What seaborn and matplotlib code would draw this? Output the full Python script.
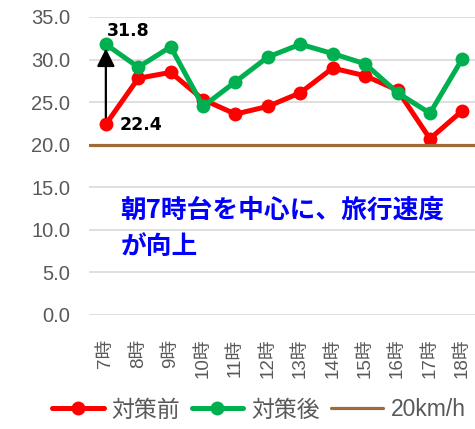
import matplotlib
matplotlib.use("Agg")
import matplotlib.pyplot as plt
from matplotlib.lines import Line2D
import seaborn as sns
import numpy as np
import pandas as pd

hours = ["7時", "8時", "9時", "10時", "11時", "12時", "13時", "14時", "15時", "16時", "17時", "18時"]
before = [22.4, 27.8, 28.5, 25.3, 23.6, 24.5, 26.1, 29.0, 28.1, 26.4, 20.7, 24.0]
after = [31.8, 29.1, 31.5, 24.5, 27.4, 30.3, 31.8, 30.7, 29.5, 26.1, 23.7, 30.1]
threshold = 20.0
yticks = [0, 5, 10, 15, 20, 25, 30, 35]
series_names = ["対策前", "対策後", "20km/h"]

sns.set_theme(style="white")
plt.rcParams['font.family'] = ['Liberation Sans', 'Noto Sans CJK JP', 'DejaVu Sans']

W, H = 475, 429
fig = plt.figure(figsize=(W / 100, H / 100), dpi=100)
ax = fig.add_axes([89 / W, 1 - 315 / H, 1 - 89 / W, (315 - 17) / H])

idx = np.arange(len(hours))
df = pd.DataFrame({"x": np.concatenate([idx, idx]),
                   "y": before + after,
                   "series": [series_names[0]] * len(hours) + [series_names[1]] * len(hours)})

red = "#FF0000"
green = "#00B050"
brown = "#9E6A38"
gray = "#595959"

sns.lineplot(data=df[df.series == series_names[0]], x="x", y="y", ax=ax, color=red,
             marker="o", markersize=10, markeredgewidth=0, linewidth=3.6,
             legend=False, zorder=3)
sns.lineplot(data=df[df.series == series_names[1]], x="x", y="y", ax=ax, color=green,
             marker="o", markersize=10, markeredgewidth=0, linewidth=3.6,
             legend=False, zorder=4)
ax.axhline(threshold, color=brown, linewidth=2.3, zorder=5)

ax.set_xlim(-0.52, 11.39)
ax.set_ylim(0, 35)
ax.set_yticks(yticks)
ax.set_yticklabels([f"{v:.1f}" for v in yticks], color=gray, fontsize=14.5)
ax.set_xticks(idx)
ax.set_xticklabels(hours, rotation=90, color=gray, fontsize=13.5)
ax.tick_params(axis='x', length=0, pad=17)
ax.tick_params(axis='y', length=0, pad=13.5)
ax.set_xlabel("")
ax.set_ylabel("")
for s in ax.spines.values():
    s.set_visible(False)
ax.grid(axis='y', color="#D9D9D9", linewidth=1.2, zorder=0)
ax.set_axisbelow(True)

# annotations
ax.annotate("", xy=(0, 31.3), xytext=(0, 23.2),
            arrowprops=dict(arrowstyle="-|>,head_length=0.9,head_width=0.45",
                            color="black", lw=1.6, shrinkA=0, shrinkB=0), zorder=6)
ax.text(0.03, 33.4, f"{after[0]:.1f}", fontsize=12.5, fontweight="bold",
        family="DejaVu Sans", color="black", va="center", ha="left", zorder=7)
ax.text(0.43, 22.3, f"{before[0]:.1f}", fontsize=12.5, fontweight="bold",
        family="DejaVu Sans", color="black", va="center", ha="left", zorder=7)

ax.text(0.45, 12.3, "朝7時台を中心に、旅行速度", fontsize=18.5, fontweight="bold",
        color="#0000FF", va="center", ha="left",
        family=['Noto Sans CJK JP', 'DejaVu Sans'], zorder=7)
ax.text(0.45, 8.1, "が向上", fontsize=18.5, fontweight="bold",
        color="#0000FF", va="center", ha="left",
        family=['Noto Sans CJK JP', 'DejaVu Sans'], zorder=7)

handles = [
    Line2D([], [], color=red, lw=3.6, marker="o", markersize=10, markeredgewidth=0),
    Line2D([], [], color=green, lw=3.6, marker="o", markersize=10, markeredgewidth=0),
    Line2D([], [], color=brown, lw=2.3),
]
leg = fig.legend(handles, series_names, loc="center left",
                 bbox_to_anchor=(52 / W, 1 - 410 / H), ncol=3, frameon=False,
                 fontsize=16.5, handlelength=2.25, handletextpad=0.35,
                 columnspacing=0.5, borderpad=0, borderaxespad=0)
for t in leg.get_texts():
    t.set_color(gray)

fig.savefig("out.png", dpi=100)
